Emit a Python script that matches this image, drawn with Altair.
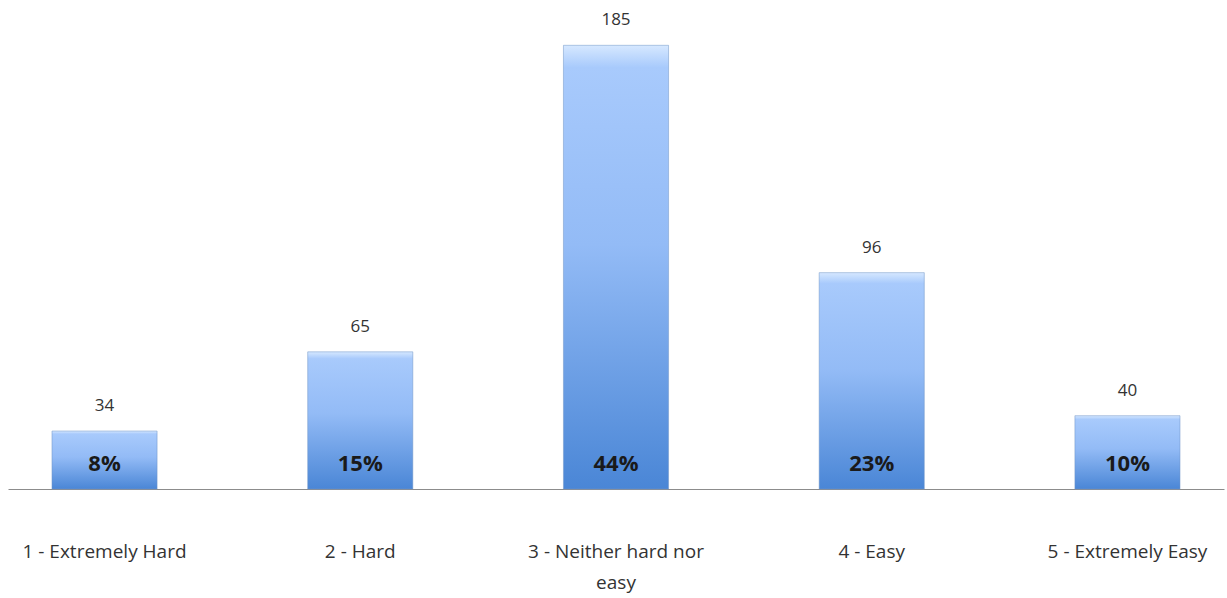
import altair as alt
import pandas as pd

categories = ["1 - Extremely Hard", "2 - Hard", "3 - Neither hard nor easy", "4 - Easy", "5 - Extremely Easy"]
counts = [34, 65, 185, 96, 40]
percents = ["8%", "15%", "44%", "23%", "10%"]
wrapped = {"3 - Neither hard nor easy": ["3 - Neither hard nor", "easy"]}

Y_MIN = 11.3
Y_MAX = 200

df = pd.DataFrame({"category": categories, "count": counts, "pct": percents})

label_expr = " : ".join(
    [f"datum.label == '{k}' ? [{', '.join(repr(s) for s in v)}]" for k, v in wrapped.items()]
    + ["datum.label"]
)

font = "Open Sans"

x = alt.X(
    "category:N",
    sort=categories,
    title=None,
    scale=alt.Scale(paddingInner=0.589, paddingOuter=0.172),
    axis=alt.Axis(
        labelAngle=0,
        labelFont=font,
        labelFontSize=19,
        labelColor="#333333",
        labelPadding=53,
        labelLineHeight=31,
        labelBaseline="top",
        labelExpr=label_expr,
        ticks=False,
        grid=False,
        domainColor="#8c8c8c",
        domainWidth=1,
        labelLimit=300,
    ),
)

yscale = alt.Scale(domain=[Y_MIN, Y_MAX], zero=False, nice=False)

gradient = alt.Gradient(
    gradient="linear",
    x1=0, x2=0, y1=0, y2=1,
    stops=[
        alt.GradientStop(color="#d6e8ff", offset=0.0),
        alt.GradientStop(color="#a8cafc", offset=0.05),
        alt.GradientStop(color="#93bbf6", offset=0.45),
        alt.GradientStop(color="#4a86d6", offset=1.0),
    ],
)

base = alt.Chart(df)

bars = base.mark_bar(fill=gradient, stroke="#6f95c8", strokeWidth=1, strokeOpacity=0.5).encode(
    x=x,
    y=alt.Y("count:Q", scale=yscale, axis=None),
    y2=alt.datum(Y_MIN),
)

values = base.mark_text(baseline="bottom", dy=-16, font=font, fontSize=17, color="#333333").encode(
    x=x,
    y=alt.Y("count:Q", scale=yscale, axis=None),
    text="count:N",
)

pcts = base.mark_text(baseline="middle", dy=-25, font=font, fontSize=22, fontWeight="bold", color="#1a1a1a").encode(
    x=x,
    y=alt.Y(datum=Y_MIN, scale=yscale, axis=None),
    text="pct:N",
)

chart = (
    alt.layer(bars, values, pcts)
    .properties(
        width=1216,
        height=482,
        background="white",
        autosize=alt.AutoSizeParams(type="none"),
        padding={"left": 8, "top": 7, "right": 3, "bottom": 109},
    )
    .configure_view(stroke="transparent", strokeWidth=0)
    .configure_axisY(grid=False)
)

chart.save("out.html", embed_options={"renderer": "svg", "actions": False})
